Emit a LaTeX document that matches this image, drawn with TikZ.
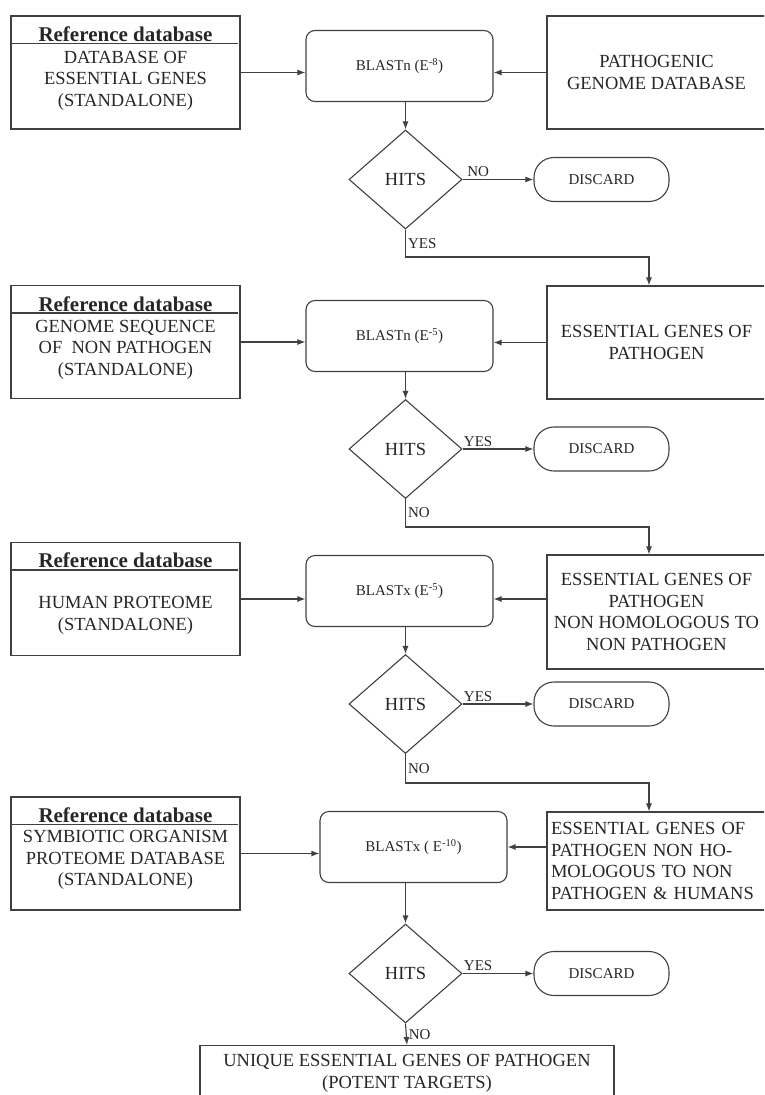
\documentclass[tikz,border=0pt]{standalone}
\usepackage{fontspec}
\setmainfont{Liberation Serif}
\usetikzlibrary{shapes.geometric,arrows.meta,calc}

\newcommand\bodyfont{\fontsize{18.5}{21.5}\selectfont}
\newcommand\headfont{\fontsize{21}{24}\selectfont\bfseries}
\newcommand\smallfont{\fontsize{15}{18}\selectfont}

\tikzset{
  every node/.style={text=black!85},
  box/.style={draw=black!75, line width=1.1pt, align=center, font=\bodyfont, inner sep=2pt},
  dbbox/.style={box, minimum width=229, minimum height=113},
  srcbox/.style={box, minimum width=219, minimum height=113},
  blastbox/.style={box, rounded corners=9pt, minimum width=187, minimum height=71, font=\smallfont},
  hits/.style={box, diamond, minimum width=113, minimum height=99, inner sep=0pt},
  discard/.style={box, rounded corners=20pt, minimum width=135, minimum height=44, font=\smallfont},
  body/.style={font=\bodyfont, align=center, inner sep=0pt},
  head/.style={font=\headfont, inner sep=0pt},
  lbl/.style={font=\smallfont, inner sep=2pt},
  sep/.style={draw=black!75, line width=1.1pt},
  arr/.style={draw=black!75, line width=1.1pt, -{Latex[length=8pt,width=6pt]}},
}

\begin{document}
\begin{tikzpicture}[x=1pt, y=-1pt]
  \useasboundingbox (0,0) rectangle (764,1095);
  \clip (0,0) rectangle (764,1095);

  % first search: essential genes
  \node[dbbox] (ref1) at (125.5,72.5) {};
  \node[head] (h1) at (125.5,35) {\underline{Reference database}};
  \draw[sep] ($(ref1.north west)+(0,28)$) -- ($(ref1.north east)+(-3,28)$);
  \node[body] (t1) at (125.5,80.5) {DATABASE OF\\ESSENTIAL GENES\\(STANDALONE)};
  \node[blastbox] (bl1) at (399.5,66) {BLASTn (E\textsuperscript{-8})};
  \node[srcbox] (src1) at (656.5,72.5) {PATHOGENIC\\GENOME DATABASE};
  \node[hits] (hit1) at (405.5,179.5) {HITS};
  \node[discard] (dis1) at (601.5,179.5) {DISCARD};

  \draw[arr] (ref1.east) -- (ref1.east -| bl1.west);
  \draw[arr] (src1.west) -- (src1.west -| bl1.east);
  \draw[arr] (bl1.south -| hit1.north) -- (hit1.north);
  \draw[arr] (hit1.east) -- node[lbl, above, pos=0.22] (n1) {NO} (dis1.west);

  % second search: non pathogen
  \node[dbbox] (ref2) at (125.5,342) {};
  \node[head] (h2) at (125.5,305) {\underline{Reference database}};
  \draw[sep] ($(ref2.north west)+(0,28)$) -- ($(ref2.north east)+(-3,28)$);
  \node[body] (t2) at (125.5,349.5) {GENOME SEQUENCE\\OF~~NON PATHOGEN\\(STANDALONE)};
  \node[blastbox] (bl2) at (399.5,336) {BLASTn (E\textsuperscript{-5})};
  \node[srcbox] (src2) at (656.5,342.5) {ESSENTIAL GENES OF\\PATHOGEN};
  \node[hits] (hit2) at (405.5,449) {HITS};
  \node[discard] (dis2) at (601.5,449) {DISCARD};

  \coordinate (k1) at (405.5,257);
  \coordinate (k1e) at (649,257);
  \draw[arr] (hit1.south) -- node[lbl, right, pos=0.5] (y1) {YES} (k1) -- (k1e) -- (k1e |- src2.north);

  \draw[arr] (ref2.east) -- (ref2.east -| bl2.west);
  \draw[arr] (src2.west) -- (src2.west -| bl2.east);
  \draw[arr] (bl2.south -| hit2.north) -- (hit2.north);
  \draw[arr] (hit2.east) -- node[lbl, above, pos=0.22] (y2) {YES} (dis2.west);

  % third search: human proteome
  \node[dbbox] (ref3) at (125.5,599) {};
  \node[head] (h3) at (125.5,561) {\underline{Reference database}};
  \draw[sep] ($(ref3.north west)+(0,28)$) -- ($(ref3.north east)+(-3,28)$);
  \node[body] (t3) at (125.5,615.5) {HUMAN PROTEOME\\(STANDALONE)};
  \node[blastbox] (bl3) at (399.5,591) {BLASTx (E\textsuperscript{-5})};
  \node[srcbox, minimum height=114] (src3) at (656.5,612) {ESSENTIAL GENES OF\\PATHOGEN\\NON HOMOLOGOUS TO\\NON PATHOGEN};
  \node[hits] (hit3) at (405.5,704) {HITS};
  \node[discard] (dis3) at (601.5,704) {DISCARD};

  \coordinate (k2) at (405.5,527);
  \coordinate (k2e) at (649,527);
  \draw[arr] (hit2.south) -- node[lbl, right, pos=0.5] (n2) {NO} (k2) -- (k2e) -- (k2e |- src3.north);

  \draw[arr] (ref3.east) -- (ref3.east -| bl3.west);
  \draw[arr] (src3.west |- ref3.east) -- (bl3.east |- ref3.east);
  \draw[arr] (bl3.south -| hit3.north) -- (hit3.north);
  \draw[arr] (hit3.east) -- node[lbl, above, pos=0.22] (y3) {YES} (dis3.west);

  % fourth search: symbiotic organism
  \node[dbbox] (ref4) at (125.5,853.5) {};
  \node[head] (h4) at (125.5,816) {\underline{Reference database}};
  \draw[sep] ($(ref4.north west)+(0,28)$) -- ($(ref4.north east)+(-3,28)$);
  \node[body] (t4) at (125.5,860) {SYMBIOTIC ORGANISM\\PROTEOME DATABASE\\(STANDALONE)};
  \node[blastbox] (bl4) at (413.5,847) {BLASTx ( E\textsuperscript{-10})};
  \node[srcbox, minimum height=98, text width=211, align=left] (src4) at (656.5,861) {ESSENTIAL GENES OF\\PATHOGEN NON HO-\\MOLOGOUS TO NON\\PATHOGEN \& HUMANS};
  \node[hits] (hit4) at (405.5,973.5) {HITS};
  \node[discard] (dis4) at (601.5,973.5) {DISCARD};
  \node[box, anchor=north, minimum width=414, minimum height=56] (fin) at (407,1045) {UNIQUE ESSENTIAL GENES OF PATHOGEN\\(POTENT TARGETS)};

  \coordinate (k3) at (405.5,783);
  \coordinate (k3e) at (649,783);
  \draw[arr] (hit3.south) -- node[lbl, right, pos=0.5] (n3) {NO} (k3) -- (k3e) -- (k3e |- src4.north);

  \draw[arr] (ref4.east) -- (ref4.east -| bl4.west);
  \draw[arr] (src4.west |- bl4.east) -- (bl4.east);
  \draw[arr] (bl4.south -| hit4.north) -- (hit4.north);
  \draw[arr] (hit4.east) -- node[lbl, above, pos=0.22] (y4) {YES} (dis4.west);
  \draw[arr] (hit4.south) -- node[lbl, right] (n4) {NO} (fin.north);
\end{tikzpicture}
\end{document}
